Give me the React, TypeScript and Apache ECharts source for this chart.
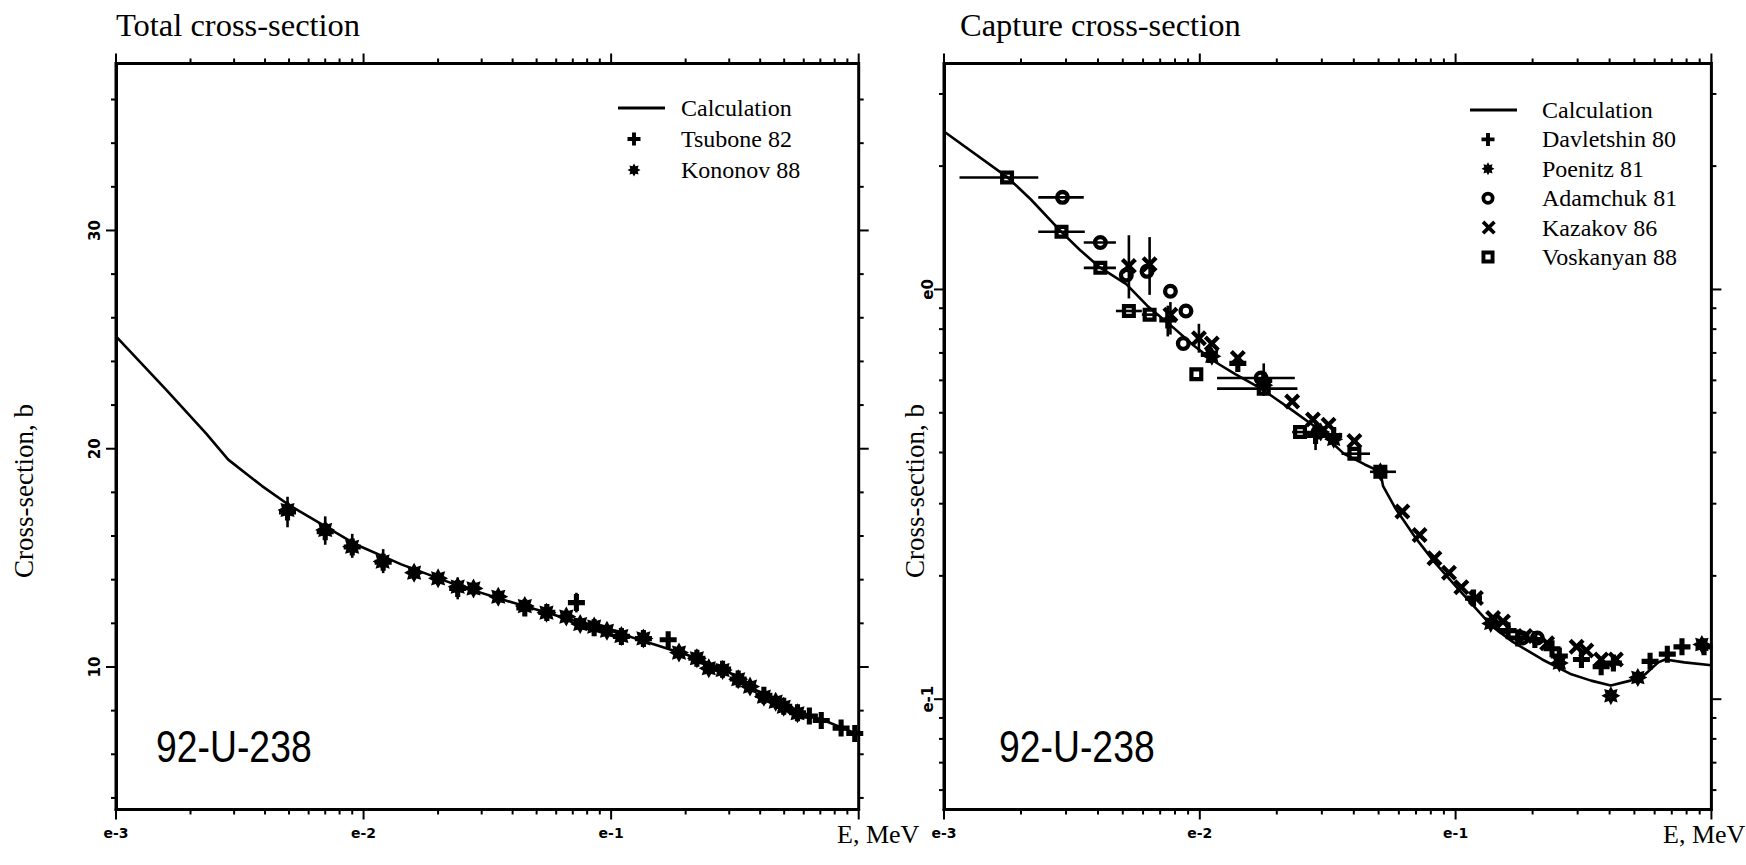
import React, { useEffect, useRef } from "react";
import * as echarts from "echarts";

// ---------------- Left panel: total cross-section (b) vs E (MeV) ----------------
const leftCalc = [
  [0.001, 25.15], [0.00161, 22.65], [0.00231, 20.7], [0.00284, 19.5], [0.00388, 18.3],
  [0.00503, 17.4], [0.00687, 16.5], [0.00937, 15.6], [0.0142, 14.7], [0.0238, 13.75],
  [0.04, 12.95], [0.067, 12.2], [0.0973, 11.7], [0.153, 11.0], [0.209, 10.5],
  [0.286, 9.9], [0.39, 8.9], [0.532, 8.05], [0.726, 7.55], [1.0, 6.9],
];
const tsubone82 = [
  [0.00493, 17.1], [0.007, 16.2], [0.009, 15.5], [0.012, 14.8], [0.024, 13.6],
  [0.0448, 12.7], [0.055, 12.5], [0.0724, 12.95], [0.0854, 11.8], [0.11, 11.4],
  [0.135, 11.3], [0.17, 11.25], [0.222, 10.4], [0.282, 9.9], [0.326, 9.45],
  [0.414, 8.7], [0.498, 8.2], [0.566, 7.9], [0.632, 7.75], [0.706, 7.55],
  [0.849, 7.2], [0.964, 6.95],
];
const tsubone82Err = [
  [0.00493, 17.1, 16.4, 17.8], [0.007, 16.2, 15.6, 16.9], [0.009, 15.5, 15.0, 16.1],
  [0.012, 14.8, 14.3, 15.4], [0.024, 13.6, 13.1, 14.1], [0.0724, 12.95, 12.5, 13.4],
  [0.17, 11.25, 10.9, 11.6],
];
const kononov88 = [
  [0.00493, 17.19], [0.007, 16.28], [0.00899, 15.51], [0.01194, 14.83], [0.016, 14.32],
  [0.02, 14.06], [0.024, 13.68], [0.0278, 13.6], [0.035, 13.22], [0.0448, 12.79],
  [0.0548, 12.49], [0.0659, 12.31], [0.075, 11.97], [0.0854, 11.85], [0.0962, 11.66],
  [0.11, 11.42], [0.135, 11.31], [0.188, 10.66], [0.222, 10.4], [0.248, 9.94],
  [0.282, 9.86], [0.326, 9.44], [0.364, 9.1], [0.414, 8.64], [0.462, 8.41],
  [0.498, 8.18], [0.566, 7.88],
];

// ---------------- Right panel: capture cross-section (b) vs E (MeV) ----------------
const rightCalc = [
  [0.001, 2.43], [0.001767, 1.88], [0.002182, 1.66], [0.002882, 1.38], [0.003392, 1.25],
  [0.00408, 1.13], [0.005159, 1.03], [0.006227, 0.913], [0.007863, 0.808], [0.009464, 0.73],
  [0.01141, 0.667], [0.01376, 0.621], [0.01737, 0.573], [0.02301, 0.507], [0.02763, 0.467],
  [0.03665, 0.397], [0.04412, 0.374], [0.05076, 0.359], [0.05207, 0.331], [0.05803, 0.293],
  [0.06926, 0.249], [0.08267, 0.216], [0.09847, 0.191], [0.1175, 0.169], [0.1398, 0.15],
  [0.1673, 0.138], [0.2182, 0.125], [0.2835, 0.115], [0.3384, 0.111], [0.4044, 0.108],
  [0.4824, 0.111], [0.5511, 0.115], [0.6196, 0.123], [0.66, 0.125], [0.7841, 0.123],
  [1.0, 0.121],
];
const davletshin80 = [
  [0.007496, 0.842], [0.01089, 0.694], [0.01408, 0.66], [0.01778, 0.6], [0.02835, 0.44],
  [0.03337, 0.44], [0.1175, 0.1765], [0.1604, 0.147], [0.1749, 0.141], [0.2041, 0.1398],
  [0.2382, 0.1328], [0.2544, 0.1275], [0.3104, 0.125], [0.3707, 0.12], [0.4139, 0.1225],
  [0.5758, 0.1237], [0.6724, 0.1288], [0.7673, 0.1342], [0.936, 0.1342],
];
const davletshin80Err = [
  [0.007496, 0.842, 0.768, 0.913], [0.01778, 0.6, 0.55, 0.66], [0.02835, 0.44, 0.4055, 0.477],
];
const poenitz81 = [
  [0.01115, 0.687], [0.01778, 0.584], [0.0297, 0.4487], [0.03337, 0.4308], [0.05081, 0.3589],
  [0.1372, 0.1531], [0.2544, 0.1225], [0.4046, 0.102], [0.5157, 0.113], [0.9177, 0.136],
];
const adamchuk81 = [
  [0.002906, 1.678], [0.004085, 1.302], [0.00516, 1.084], [0.006218, 1.107], [0.007675, 0.99],
  [0.008826, 0.886], [0.008621, 0.738], [0.01736, 0.608], [0.02901, 0.4487], [0.1532, 0.15],
  [0.1827, 0.141], [0.2087, 0.141],
];
const adamchuk81XErr = [
  [0.002906, 1.678, 0.002336, 0.003519], [0.004085, 1.302, 0.003519, 0.0047],
  [0.01736, 0.608, 0.01168, 0.02352],
];
const kazakov86 = [
  [0.005282, 1.141], [0.006365, 1.152], [0.007675, 0.868], [0.009921, 0.76], [0.01114, 0.738],
  [0.01408, 0.68], [0.02297, 0.533], [0.02769, 0.4818], [0.03186, 0.4673], [0.04021, 0.4266],
  [0.06193, 0.2872], [0.07231, 0.2517], [0.08264, 0.2207], [0.09423, 0.2034], [0.1053, 0.1875],
  [0.1201, 0.1765], [0.1401, 0.1579], [0.1532, 0.1547], [0.1868, 0.1426], [0.2279, 0.137],
  [0.2972, 0.1342], [0.3244, 0.1315], [0.3707, 0.125], [0.4232, 0.125],
];
const kazakov86Err = [
  [0.005282, 1.141, 0.9506, 1.356], [0.006365, 1.152, 0.97, 1.342],
  [0.007675, 0.868, 0.776, 0.9315], [0.009921, 0.76, 0.701, 0.8245],
];
const voskanyan88 = [
  [0.001764, 1.876], [0.00288, 1.383], [0.004085, 1.129], [0.005282, 0.886], [0.006365, 0.868],
  [0.009692, 0.621], [0.01778, 0.5727], [0.02465, 0.4487], [0.04021, 0.3973], [0.05081, 0.3589],
];
const voskanyan88XErr = [
  [0.001764, 1.876, 0.00115, 0.002336], [0.00288, 1.383, 0.002336, 0.003552],
  [0.004085, 1.129, 0.003519, 0.0047], [0.005282, 0.886, 0.0047, 0.005936],
  [0.006365, 0.868, 0.005936, 0.006828], [0.01778, 0.5727, 0.01168, 0.02408],
  [0.02465, 0.4487, 0.02297, 0.02901], [0.04021, 0.3973, 0.03582, 0.04628],
  [0.05081, 0.3589, 0.04628, 0.05846],
];

// ---------------- Axis ticks and labels ----------------
const xMajorTicks = [0.001, 0.01, 0.1, 1];
const xMinorTicks = [
  0.002, 0.003, 0.004, 0.005, 0.006, 0.007, 0.008, 0.009,
  0.02, 0.03, 0.04, 0.05, 0.06, 0.07, 0.08, 0.09,
  0.2, 0.3, 0.4, 0.5, 0.6, 0.7, 0.8, 0.9,
];
const leftYMajor = [10, 20, 30];
const leftYMinor = [4, 6, 8, 12, 14, 16, 18, 22, 24, 26, 28, 32, 34, 36];
const rightYMajor = [0.1, 1];
const rightYMinor = [0.06, 0.07, 0.08, 0.09, 0.2, 0.3, 0.4, 0.5, 0.6, 0.7, 0.8, 0.9, 2, 3];
const xTickLabels: Record<string, string> = { "-3": "e-3", "-2": "e-2", "-1": "e-1" };
const rightYTickLabels: Record<string, string> = { "-1": "e-1", "0": "e0" };

const SERIF = '"Liberation Serif", "Times New Roman", serif';

function poly(pts: number[][]): string {
  return "M" + pts.map((p) => p[0].toFixed(3) + "," + p[1].toFixed(3)).join("L") + "Z";
}
function plusPts(cx: number, cy: number, r: number, w: number): number[][] {
  return [
    [cx - w, cy - r], [cx + w, cy - r], [cx + w, cy - w], [cx + r, cy - w], [cx + r, cy + w],
    [cx + w, cy + w], [cx + w, cy + r], [cx - w, cy + r], [cx - w, cy + w], [cx - r, cy + w],
    [cx - r, cy - w], [cx - w, cy - w],
  ];
}
function shapePath(kind: string, cx: number, cy: number, r: number): string {
  if (kind === "plus") return poly(plusPts(cx, cy, r, r * 0.3));
  if (kind === "cross") {
    const s = Math.SQRT1_2;
    return poly(plusPts(0, 0, r * 1.3, r * 0.3).map(([x, y]) => [cx + (x - y) * s, cy + (x + y) * s]));
  }
  if (kind === "star") {
    const pts: number[][] = [];
    for (let i = 0; i < 16; i++) {
      const a = (i * Math.PI) / 8 - Math.PI / 2;
      const rad = i % 2 === 0 ? r : r * 0.62;
      pts.push([cx + rad * Math.cos(a), cy + rad * Math.sin(a)]);
    }
    return poly(pts);
  }
  if (kind === "ring") {
    const ri = r * 0.42;
    return (
      `M${cx + r},${cy}A${r},${r},0,1,1,${cx - r},${cy}A${r},${r},0,1,1,${cx + r},${cy}Z` +
      `M${cx + ri},${cy}A${ri},${ri},0,1,0,${cx - ri},${cy}A${ri},${ri},0,1,0,${cx + ri},${cy}Z`
    );
  }
  // square with a hole
  const h = r * 0.4;
  return (
    `M${cx - r},${cy - r}H${cx + r}V${cy + r}H${cx - r}Z` +
    `M${cx - h},${cy - h}V${cy + h}H${cx + h}V${cy - h}Z`
  );
}
const sym = (kind: string) => "path://" + shapePath(kind, 5, 5, 5);
function legendIcon(kind: string, W: number, cx: number): string {
  const r = 6.5;
  const c = r;
  return `path://M0,${c}L0.01,${c}ZM${W},${c}L${W - 0.01},${c}Z` + shapePath(kind, cx, c, r);
}
function lineIcon(W: number, len: number): string {
  return `path://M0,4H${len}V7H0ZM${W},5.5L${W - 0.01},5.5Z`;
}

function errRender(horizontal: boolean) {
  return (params: any, api: any) => {
    const x = api.value(0);
    const y = api.value(1);
    const lo = api.value(2);
    const hi = api.value(3);
    const a = horizontal ? api.coord([lo, y]) : api.coord([x, lo]);
    const b = horizontal ? api.coord([hi, y]) : api.coord([x, hi]);
    return {
      type: "line",
      shape: { x1: a[0], y1: a[1], x2: b[0], y2: b[1] },
      style: { stroke: "#000", lineWidth: 2.6 },
    };
  };
}

function tickRender(params: any, api: any) {
  const cs = params.coordSys;
  const p = api.coord([api.value(0), api.value(1)]);
  const kind = api.value(2);
  const len = kind % 2 === 1 ? 10 : 5;
  const mk = (x1: number, y1: number, x2: number, y2: number) => ({
    type: "line",
    shape: { x1, y1, x2, y2 },
    style: { stroke: "#000", lineWidth: 2 },
  });
  if (kind < 2) {
    const b = cs.y + cs.height;
    return { type: "group", children: [mk(p[0], b, p[0], b + len), mk(p[0], cs.y, p[0], cs.y - len)] };
  }
  const r = cs.x + cs.width;
  return { type: "group", children: [mk(cs.x, p[1], cs.x - len, p[1]), mk(r, p[1], r + len, p[1])] };
}

function tickData(xRef: number, yRef: number, yMajor: number[], yMinor: number[]) {
  return [
    ...xMinorTicks.map((v) => [v, yRef, 0]),
    ...xMajorTicks.map((v) => [v, yRef, 1]),
    ...yMinor.map((v) => [xRef, v, 2]),
    ...yMajor.map((v) => [xRef, v, 3]),
  ];
}

const decade = (v: number, map: Record<string, string>) => {
  const l = Math.log10(v);
  const r = Math.round(l);
  if (Math.abs(l - r) > 1e-6) return "";
  return map[String(r)] || "";
};

function buildOption(): any {
  const axisLine = { show: true, lineStyle: { color: "#000", width: 3 } };
  const tickLabel = { color: "#000", fontFamily: '"DejaVu Sans", sans-serif', fontWeight: "bold", fontSize: 14 };
  const lineSeries = (name: string, data: number[][], xi: number) => ({
    name, type: "line", xAxisIndex: xi, yAxisIndex: xi, data, symbol: "none",
    lineStyle: { color: "#000", width: 2.6 }, itemStyle: { color: "#000" }, z: 3,
  });
  const scatter = (name: string, data: number[][], xi: number, kind: string, size: number) => ({
    name, type: "scatter", xAxisIndex: xi, yAxisIndex: xi, data, symbol: sym(kind), symbolSize: size,
    itemStyle: { color: "#000", borderWidth: 0, opacity: 1 }, z: 4,
  });
  const errSeries = (data: number[][], xi: number, horizontal: boolean) => ({
    type: "custom", xAxisIndex: xi, yAxisIndex: xi, data, renderItem: errRender(horizontal),
    encode: { x: 0, y: 1 }, silent: true, clip: false, z: 2,
  });
  const tickSeries = (data: number[][], xi: number) => ({
    type: "custom", xAxisIndex: xi, yAxisIndex: xi, data, renderItem: tickRender,
    encode: { x: 0, y: 1 }, silent: true, clip: false, z: 5,
  });
  const legendText = { fontFamily: SERIF, fontSize: 24, color: "#000" };
  const titleText = { fontFamily: SERIF, fontSize: 32.5, fontWeight: "normal", color: "#000" };

  return {
    animation: false,
    backgroundColor: "#fff",
    color: ["#000"],
    textStyle: { fontFamily: SERIF, color: "#000" },
    title: [
      { text: "Total cross-section", left: 116, top: 8, padding: 0, textStyle: titleText },
      { text: "Capture cross-section", left: 960, top: 8, padding: 0, textStyle: titleText },
    ],
    legend: [
      {
        orient: "vertical", left: 618, top: 96, padding: 0, itemWidth: 58, itemHeight: 14, itemGap: 7,
        selectedMode: false, symbolKeepAspect: true, itemStyle: { borderWidth: 0, opacity: 1 }, textStyle: legendText,
        data: [
          { name: "Calculation", icon: lineIcon(58, 47) },
          { name: "Tsubone 82", icon: legendIcon("plus", 58, 16) },
          { name: "Kononov 88", icon: legendIcon("star", 58, 16) },
        ],
      },
      {
        orient: "vertical", left: 1470, top: 98, padding: 0, itemWidth: 67, itemHeight: 14, itemGap: 5.4,
        selectedMode: false, symbolKeepAspect: true, itemStyle: { borderWidth: 0, opacity: 1 }, textStyle: legendText,
        data: [
          { name: "Calculation", icon: lineIcon(67, 47) },
          { name: "Davletshin 80", icon: legendIcon("plus", 67, 18) },
          { name: "Poenitz 81", icon: legendIcon("star", 67, 18) },
          { name: "Adamchuk 81", icon: legendIcon("ring", 67, 18) },
          { name: "Kazakov 86", icon: legendIcon("cross", 67, 18) },
          { name: "Voskanyan 88", icon: legendIcon("square", 67, 18) },
        ],
      },
    ],
    grid: [
      { left: 116, top: 63.5, width: 742.7, height: 746, show: true, borderColor: "#000", borderWidth: 3, backgroundColor: "transparent" },
      { left: 944, top: 63.5, width: 767.4, height: 746, show: true, borderColor: "#000", borderWidth: 3, backgroundColor: "transparent" },
    ],
    xAxis: [0, 1].map((gi) => ({
      type: "log", logBase: 10, gridIndex: gi, min: 0.001, max: 1,
      axisLine, axisTick: { show: false }, splitLine: { show: false }, minorTick: { show: false },
      axisLabel: { ...tickLabel, margin: 16, formatter: (v: number) => decade(v, xTickLabels) },
    })),
    yAxis: [
      {
        type: "value", gridIndex: 0, min: 3.47, max: 37.65,
        axisLine, axisTick: { show: false }, splitLine: { show: false },
        axisLabel: { ...tickLabel, fontSize: 15, rotate: 90, margin: 14,
          formatter: (v: number) => (leftYMajor.indexOf(v) >= 0 ? String(v) : "") },
      },
      {
        type: "log", logBase: 10, gridIndex: 1, min: 0.0538, max: 3.56,
        axisLine, axisTick: { show: false }, splitLine: { show: false }, minorTick: { show: false },
        axisLabel: { ...tickLabel, fontSize: 15, rotate: 90, margin: 9,
          formatter: (v: number) => decade(v, rightYTickLabels) },
      },
    ],
    graphic: [
      { type: "text", x: 24, y: 491, rotation: Math.PI / 2,
        style: { text: "Cross-section, b", fontFamily: SERIF, fontSize: 27, fill: "#000", align: "center", verticalAlign: "middle" } },
      { type: "text", x: 915, y: 491, rotation: Math.PI / 2,
        style: { text: "Cross-section, b", fontFamily: SERIF, fontSize: 27, fill: "#000", align: "center", verticalAlign: "middle" } },
      { type: "text", x: 156, y: 747, scaleX: 0.83,
        style: { text: "92-U-238", fontFamily: '"Liberation Sans", sans-serif', fontSize: 45, fill: "#000", verticalAlign: "middle" } },
      { type: "text", x: 999, y: 747, scaleX: 0.83,
        style: { text: "92-U-238", fontFamily: '"Liberation Sans", sans-serif', fontSize: 45, fill: "#000", verticalAlign: "middle" } },
      { type: "text", x: 837, y: 834,
        style: { text: "E, MeV", fontFamily: SERIF, fontSize: 26, fill: "#000", verticalAlign: "middle" } },
      { type: "text", x: 1663, y: 834,
        style: { text: "E, MeV", fontFamily: SERIF, fontSize: 26, fill: "#000", verticalAlign: "middle" } },
    ],
    series: [
      lineSeries("Calculation", leftCalc, 0),
      errSeries(tsubone82Err, 0, false),
      scatter("Tsubone 82", tsubone82, 0, "plus", 17),
      scatter("Kononov 88", kononov88, 0, "star", 20),
      tickSeries(tickData(0.01, 10, leftYMajor, leftYMinor), 0),

      lineSeries("Calculation", rightCalc, 1),
      errSeries(voskanyan88XErr, 1, true),
      errSeries(adamchuk81XErr, 1, true),
      errSeries(kazakov86Err, 1, false),
      errSeries(davletshin80Err, 1, false),
      scatter("Davletshin 80", davletshin80, 1, "plus", 17),
      scatter("Poenitz 81", poenitz81, 1, "star", 19),
      scatter("Adamchuk 81", adamchuk81, 1, "ring", 15),
      scatter("Kazakov 86", kazakov86, 1, "cross", 16),
      scatter("Voskanyan 88", voskanyan88, 1, "square", 14),
      tickSeries(tickData(0.01, 0.5, rightYMajor, rightYMinor), 1),
    ],
  };
}

export default function App() {
  const ref = useRef<HTMLDivElement>(null);
  useEffect(() => {
    if (!ref.current) return;
    const chart = echarts.init(ref.current, null, { renderer: "svg" });
    chart.setOption(buildOption());
    return () => chart.dispose();
  }, []);
  return (
    <div
      ref={ref}
      style={{ position: "fixed", left: 0, top: 0, width: 1746, height: 865, background: "#fff" }}
    />
  );
}
